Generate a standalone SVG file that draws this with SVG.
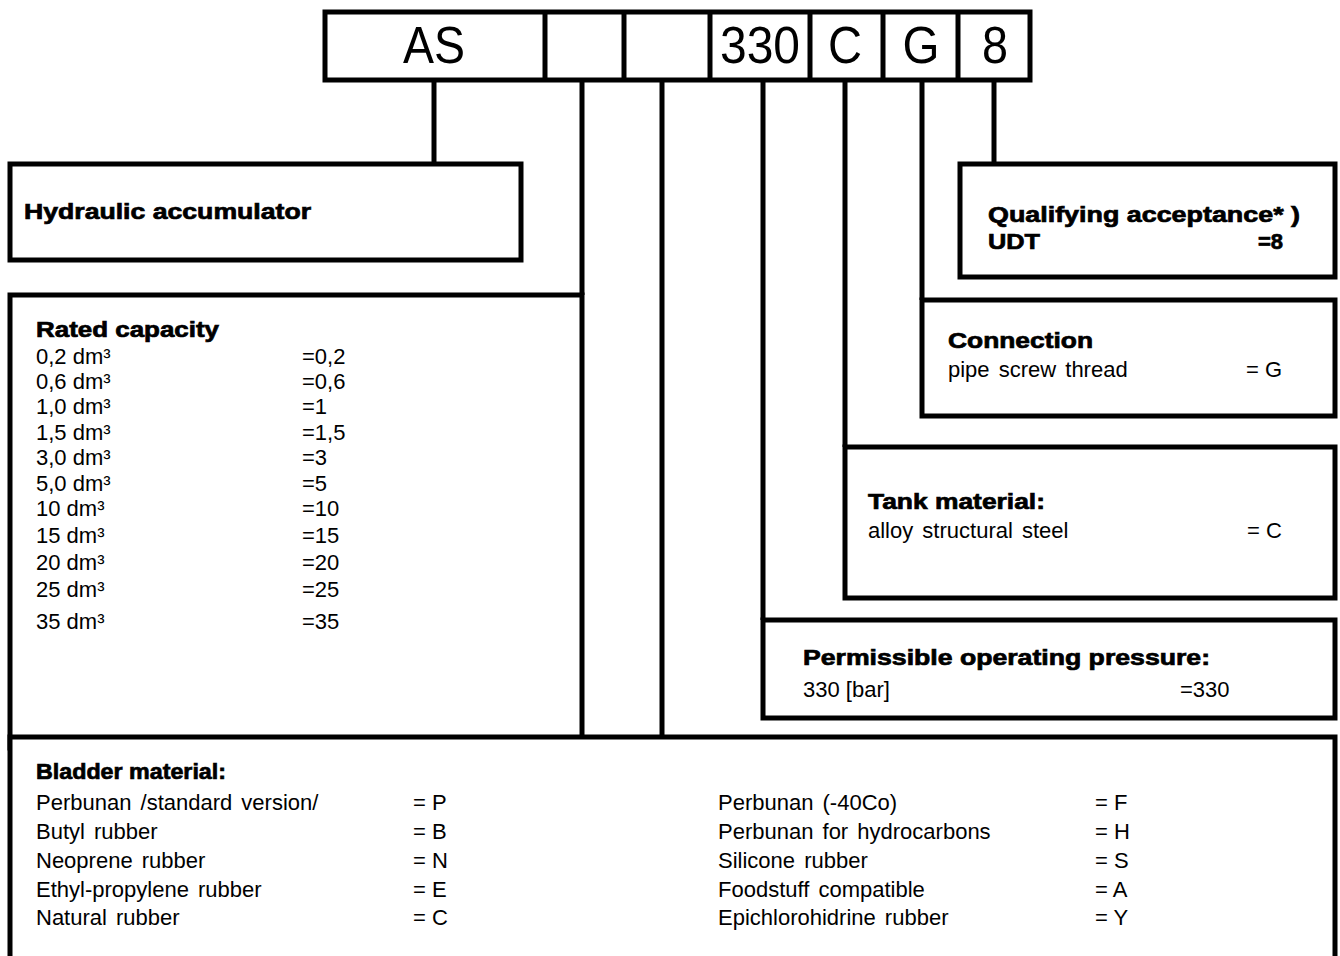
<svg xmlns="http://www.w3.org/2000/svg" width="1340" height="956" viewBox="0 0 1340 956">
<style>
.box{fill:#fff;stroke:#000;stroke-width:5}
.conn{stroke:#000;stroke-width:5;fill:none}
.b{font-family:"Liberation Sans",Arial,sans-serif;font-weight:bold;font-size:22px;fill:#000;stroke:#000;stroke-width:0.7}
.r{font-family:"Liberation Sans",Arial,sans-serif;font-size:22px;word-spacing:3px;fill:#000}
.r0{font-family:"Liberation Sans",Arial,sans-serif;font-size:22px;fill:#000}
.big{font-family:"Liberation Sans",Arial,sans-serif;font-size:52px;fill:#000;text-anchor:middle}
</style>
<rect width="1340" height="956" fill="#fff"/>
<g id="code">
<rect class="box" x="325" y="12" width="705" height="68"/>
<line class="conn" x1="545" y1="12" x2="545" y2="80"/>
<line class="conn" x1="624" y1="12" x2="624" y2="80"/>
<line class="conn" x1="710" y1="12" x2="710" y2="80"/>
<line class="conn" x1="810" y1="12" x2="810" y2="80"/>
<line class="conn" x1="883" y1="12" x2="883" y2="80"/>
<line class="conn" x1="958" y1="12" x2="958" y2="80"/>
<text class="big" x="434" y="63" textLength="62" lengthAdjust="spacingAndGlyphs">AS</text>
<text class="big" x="760" y="63" textLength="80" lengthAdjust="spacingAndGlyphs">330</text>
<text class="big" x="845" y="63" textLength="34" lengthAdjust="spacingAndGlyphs">C</text>
<text class="big" x="921" y="63" textLength="37" lengthAdjust="spacingAndGlyphs">G</text>
<text class="big" x="995" y="63" textLength="26" lengthAdjust="spacingAndGlyphs">8</text>
</g>
<g id="connectors">
<line class="conn" x1="434" y1="80" x2="434" y2="164"/>
<line class="conn" x1="582" y1="80" x2="582" y2="295"/>
<line class="conn" x1="662" y1="80" x2="662" y2="737"/>
<line class="conn" x1="763" y1="80" x2="763" y2="620"/>
<line class="conn" x1="845" y1="80" x2="845" y2="447"/>
<line class="conn" x1="922" y1="80" x2="922" y2="300"/>
<line class="conn" x1="994" y1="80" x2="994" y2="164"/>
</g>
<g id="hydraulic">
<rect class="box" x="10" y="164" width="511" height="96"/>
<text class="b" x="24" y="219" textLength="287" lengthAdjust="spacingAndGlyphs">Hydraulic accumulator</text>
</g>
<g id="rated">
<rect class="box" x="10" y="295" width="572" height="453"/>
<text class="b" x="36" y="337" textLength="183" lengthAdjust="spacingAndGlyphs">Rated capacity</text>
<g class="r0">
<text x="36" y="364">0,2 dm³</text><text x="302" y="364">=0,2</text>
<text x="36" y="389">0,6 dm³</text><text x="302" y="389">=0,6</text>
<text x="36" y="414">1,0 dm³</text><text x="302" y="414">=1</text>
<text x="36" y="440">1,5 dm³</text><text x="302" y="440">=1,5</text>
<text x="36" y="465">3,0 dm³</text><text x="302" y="465">=3</text>
<text x="36" y="491">5,0 dm³</text><text x="302" y="491">=5</text>
<text x="36" y="516">10 dm³</text><text x="302" y="516">=10</text>
<text x="36" y="543">15 dm³</text><text x="302" y="543">=15</text>
<text x="36" y="570">20 dm³</text><text x="302" y="570">=20</text>
<text x="36" y="597">25 dm³</text><text x="302" y="597">=25</text>
<text x="36" y="629">35 dm³</text><text x="302" y="629">=35</text>
</g>
</g>
<g id="qualifying">
<rect class="box" x="960" y="164" width="375" height="113"/>
<text class="b" x="988" y="222" textLength="312" lengthAdjust="spacingAndGlyphs">Qualifying acceptance* )</text>
<text class="b" x="988" y="249" textLength="52" lengthAdjust="spacingAndGlyphs">UDT</text>
<text class="b" x="1258" y="249">=8</text>
</g>
<g id="connection">
<rect class="box" x="922" y="300" width="413" height="116"/>
<text class="b" x="948" y="348" textLength="145" lengthAdjust="spacingAndGlyphs">Connection</text>
<text class="r" x="948" y="377">pipe screw thread</text>
<text class="r0" x="1246" y="377">= G</text>
</g>
<g id="tank">
<rect class="box" x="845" y="447" width="490" height="151"/>
<text class="b" x="868" y="509" textLength="177" lengthAdjust="spacingAndGlyphs">Tank material:</text>
<text class="r" x="868" y="538">alloy structural steel</text>
<text class="r0" x="1247" y="538">= C</text>
</g>
<g id="pressure">
<rect class="box" x="763" y="620" width="572" height="98"/>
<text class="b" x="803" y="665" textLength="407" lengthAdjust="spacingAndGlyphs">Permissible operating pressure:</text>
<text class="r0" x="803" y="697">330 [bar]</text>
<text class="r0" x="1180" y="697">=330</text>
</g>
<g id="bladder">
<rect class="box" x="10" y="737" width="1325" height="240"/>
<text class="b" x="36" y="779" textLength="190" lengthAdjust="spacingAndGlyphs">Bladder material:</text>
<g class="r">
<text x="36" y="810">Perbunan /standard version/</text>
<text x="36" y="839">Butyl rubber</text>
<text x="36" y="868">Neoprene rubber</text>
<text x="36" y="897">Ethyl-propylene rubber</text>
<text x="36" y="925">Natural rubber</text>
<text x="718" y="810">Perbunan (-40Co)</text>
<text x="718" y="839">Perbunan for hydrocarbons</text>
<text x="718" y="868">Silicone rubber</text>
<text x="718" y="897">Foodstuff compatible</text>
<text x="718" y="925">Epichlorohidrine rubber</text>
</g>
<g class="r0">
<text x="413" y="810">= P</text>
<text x="413" y="839">= B</text>
<text x="413" y="868">= N</text>
<text x="413" y="897">= E</text>
<text x="413" y="925">= C</text>
<text x="1095" y="810">= F</text>
<text x="1095" y="839">= H</text>
<text x="1095" y="868">= S</text>
<text x="1095" y="897">= A</text>
<text x="1095" y="925">= Y</text>
</g>
</g>
</svg>
